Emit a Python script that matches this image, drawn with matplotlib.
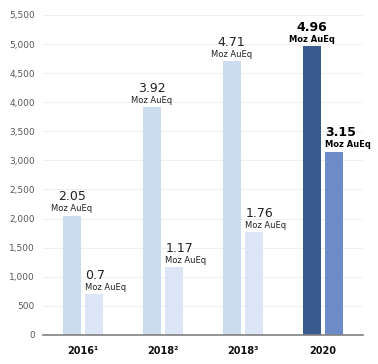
import numpy as np
import matplotlib.pyplot as plt

plt.rcParams['font.family'] = ['DejaVu Sans']

groups = ['2016\u00b9', '2018\u00b2', '2018\u00b3', '2020']
first = [2050, 3920, 4710, 4960]
second = [700, 1170, 1760, 3150]
first_lbl = ['2.05', '3.92', '4.71', '4.96']
second_lbl = ['0.7', '1.17', '1.76', '3.15']
unit = 'Moz AuEq'

c_first = ['#cbdcee', '#cbdcee', '#cbdcee', '#385a8c']
c_second = ['#dbe5f6', '#dbe5f6', '#dbe5f6', '#6d8cc7']

x = np.arange(len(groups))
w = 0.225
off = 0.1425

fig = plt.figure(figsize=(3.78, 3.64), dpi=100)
ax = fig.add_axes([0.114, 0.08, 0.846, 0.879])

b1 = ax.bar(x - off, first, w, color=c_first, zorder=2)
b2 = ax.bar(x + off, second, w, color=c_second, zorder=2)

for i in range(len(groups)):
    last = i == len(groups) - 1
    wt = 'bold' if last else 'normal'
    col = '#000000' if last else '#222222'
    # first bar labels, centred
    ax.annotate(first_lbl[i], (x[i] - off, first[i]), xytext=(0, 11),
                textcoords='offset points', ha='center', va='baseline',
                fontsize=9, fontweight=wt, color=col)
    ax.annotate(unit, (x[i] - off, first[i]), xytext=(0, 3),
                textcoords='offset points', ha='center', va='baseline',
                fontsize=6, fontweight=wt, color=col)
    # second bar labels, left aligned on the bar
    ax.annotate(second_lbl[i], (x[i] + off - w / 2, second[i]), xytext=(0, 11),
                textcoords='offset points', ha='left', va='baseline',
                fontsize=9, fontweight=wt, color=col)
    ax.annotate(unit, (x[i] + off - w / 2, second[i]), xytext=(0, 3),
                textcoords='offset points', ha='left', va='baseline',
                fontsize=6, fontweight=wt, color=col)

ax.set_xlim(-0.5, 3.5)
ax.set_ylim(0, 5500)
ax.set_yticks(np.arange(0, 5501, 500))
ax.set_yticklabels(['{:,}'.format(v) for v in range(0, 5501, 500)])
ax.set_xticks(x)
ax.set_xticklabels(groups, fontweight='bold', fontsize=7)
ax.tick_params(axis='y', length=0, pad=6, labelsize=6.5, labelcolor='#595959')
ax.tick_params(axis='x', length=0, pad=8, labelcolor='#111111')
ax.grid(axis='y', color='#efefef', linewidth=0.8, zorder=0)
for s in ['top', 'right', 'left']:
    ax.spines[s].set_visible(False)
ax.spines['bottom'].set_color('#808080')
ax.spines['bottom'].set_linewidth(1.2)
ax.spines['bottom'].set_zorder(3)

plt.savefig('out.png', dpi=100)
